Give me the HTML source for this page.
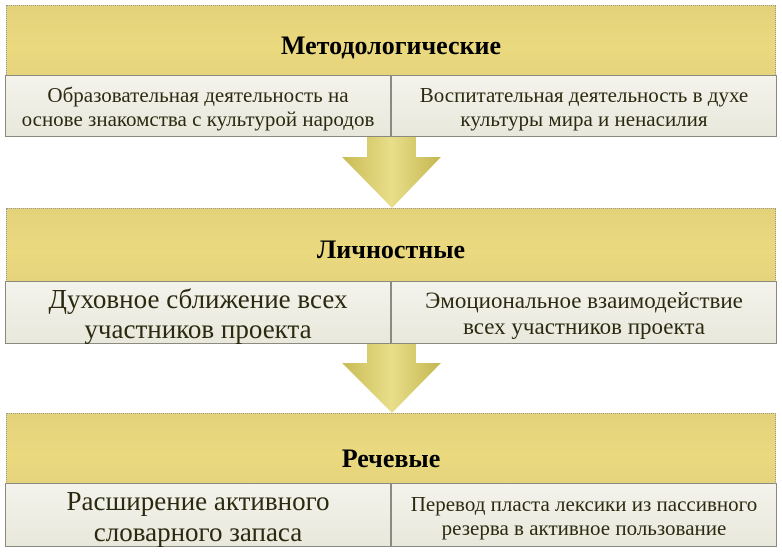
<!DOCTYPE html>
<html><head><meta charset="utf-8"><style>
body{margin:0;width:782px;height:557px;background:#fff;position:relative;overflow:hidden;font-family:"Liberation Serif",serif}
.bar{position:absolute;left:6px;width:770px;background:linear-gradient(#e4d27a,#ead97f 60%,#e6d47c);border:1px dotted #999;box-sizing:border-box;display:flex;align-items:center;justify-content:center;font-weight:bold;font-size:26px;color:#000}
.sub{position:absolute;background:linear-gradient(#f4f3ec,#e9e8dc);border:1px solid #8a8a80;box-sizing:border-box;display:flex;align-items:center;justify-content:center;text-align:center;color:#2a2a10;line-height:1.12;white-space:nowrap;padding-top:3px}
.l{left:5px;width:386px}.r{left:391px;width:386px}
svg{position:absolute;left:0;top:0}
</style></head><body>
<div class="bar" style="top:5px;height:72px;padding-top:10px">Методологические</div>
<div class="bar" style="top:208px;height:74px;padding-top:10px">Личностные</div>
<div class="bar" style="top:413px;height:71px;padding-top:20px">Речевые</div>
<svg width="782" height="557">
<defs><linearGradient id="g" x1="0" x2="1"><stop offset="0" stop-color="#c8bb55"/><stop offset=".5" stop-color="#e9de8a"/><stop offset="1" stop-color="#c4b650"/></linearGradient></defs>
<polygon points="367,137 416,137 416,157 441,157 392,208 342,157 367,157" fill="url(#g)"/>
<polygon points="367,344 416,344 416,363 441,363 392,413 342,363 367,363" fill="url(#g)"/>
</svg>
<div class="sub l" style="top:75px;height:62px;font-size:21px">Образовательная деятельность на<br>основе знакомства с культурой народов</div>
<div class="sub r" style="top:75px;height:62px;font-size:21px">Воспитательная деятельность в духе<br>культуры мира и ненасилия</div>
<div class="sub l" style="top:281px;height:63px;font-size:27px">Духовное сближение всех<br>участников проекта</div>
<div class="sub r" style="top:281px;height:63px;font-size:23px">Эмоциональное взаимодействие<br>всех участников проекта</div>
<div class="sub l" style="top:483px;height:64px;font-size:27px">Расширение активного<br>словарного запаса</div>
<div class="sub r" style="top:483px;height:64px;font-size:21px">Перевод пласта лексики из пассивного<br>резерва в активное пользование</div>
</body></html>
